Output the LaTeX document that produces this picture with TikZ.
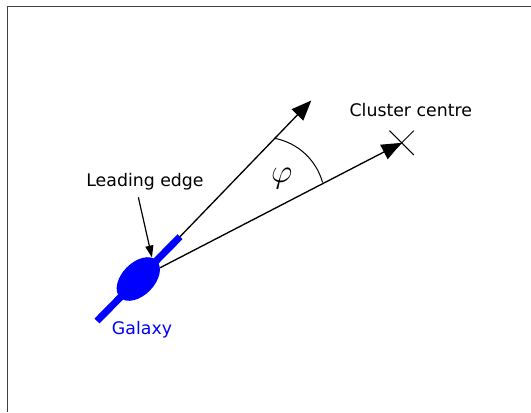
\documentclass[tikz,border=0pt]{standalone}
\usepackage{fontspec}
\setmainfont{DejaVu Sans}
\usetikzlibrary{arrows.meta,shapes.geometric,shapes.misc}

\begin{document}
\begin{tikzpicture}[
    x=0.75pt, y=0.75pt,
    % Node styles
    galaxybody/.style={
        ellipse,
        fill=blue,
        inner sep=0pt,
        minimum width=39pt,
        minimum height=24.5pt,
        rotate=45.5
    },
    crossmark/.style={
        cross out,
        draw=black,
        line width=0.75pt,
        minimum size=17.5pt,
        inner sep=0pt
    },
    caption/.style={
        font=\fontsize{13}{15}\selectfont,
        anchor=base,
        inner sep=0pt
    },
    % Line styles
    disc/.style={
        line width=5.25pt,
        draw=blue
    },
    vector/.style={
        -{Triangle[length=15pt, width=12pt]},
        line width=1pt
    },
    pointer/.style={
        -{Triangle[length=9pt, width=6pt]},
        line width=0.9pt
    },
    anglearc/.style={
        line width=0.75pt
    }
]

\useasboundingbox (0,0) rectangle (531,412);

% ===== Frame =====

\draw[line width=0.75pt, black!75] (7,0) -- (7,406) -- (531,406);

% ===== Galaxy =====

\coordinate (tail) at (97,91);
\coordinate (front) at (180,175.3);
\draw[disc] (tail) -- (front);
\node[galaxybody] (galaxy) at (138.3,133) {};

% ===== Cluster centre =====

\node[crossmark] (centre) at (401.7,269.2) {};
\coordinate (heading) at (311.3,311.5);

% ===== Arrows =====

\draw[vector] (front) -- (heading);
\draw[vector] (galaxy) -- (centre.center);

% ===== Angle =====

\draw[anglearc] (263,213) ++(78.8:46.35pt)
    arc[start angle=78.8, end angle=15.5, radius=46.35pt];
\node[font=\fontsize{25}{30}\selectfont] (phi) at (281.7,233) {$\varphi$};

% ===== Labels =====

\node[caption] (clabel) at (410.8,296) {Cluster centre};
\node[caption] (llabel) at (145,225.3) {Leading edge};
\node[caption, text=blue] (glabel) at (142,77.2) {Galaxy};

\draw[pointer] ([xshift=-5pt, yshift=-5pt]llabel.south) -- (galaxy.12);

\end{tikzpicture}
\end{document}
